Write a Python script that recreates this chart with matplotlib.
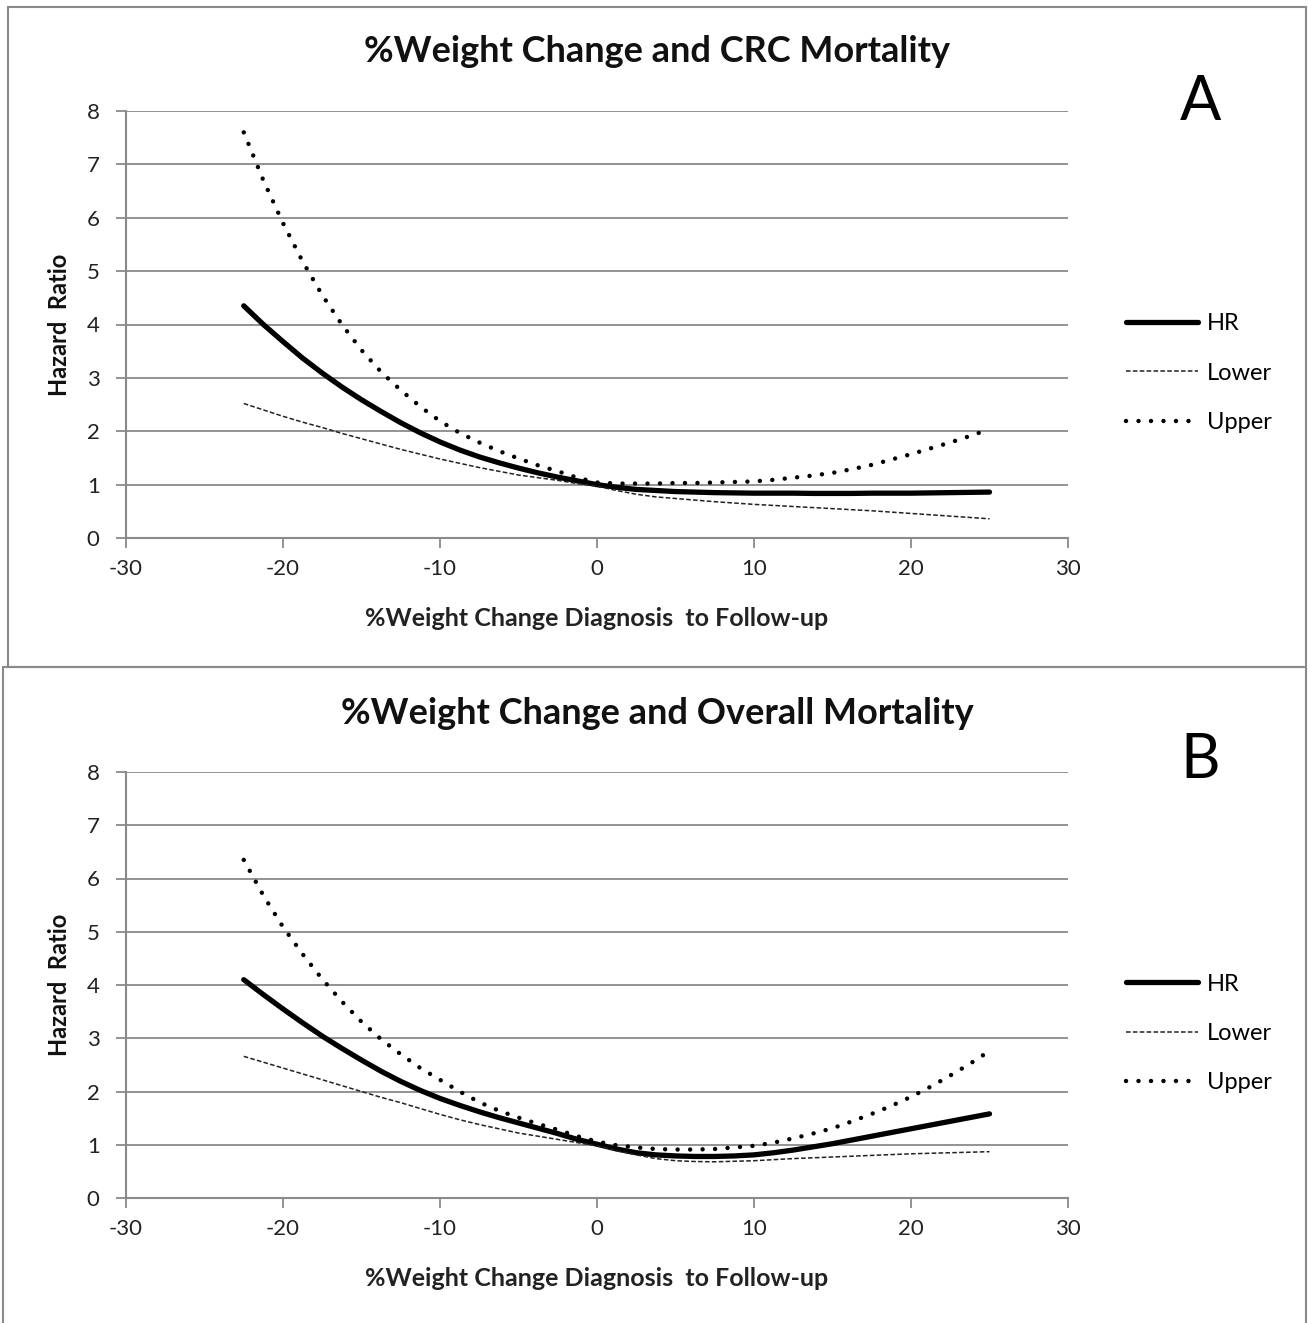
import matplotlib
matplotlib.use("Agg")
import matplotlib.pyplot as plt
from matplotlib.patches import Rectangle

plt.rcParams['font.family'] = ['Lato', 'DejaVu Sans']
plt.rcParams['axes.unicode_minus'] = False

x_vals = [-22.5, -21.25, -20, -18.75, -17.5, -16.25, -15, -13.75, -12.5, -11.25,
          -10, -8.75, -7.5, -6.25, -5, -3.75, -2.5, -1.25, 0, 1.25,
          2.5, 3.75, 5, 6.25, 7.5, 8.75, 10, 11.25, 12.5, 13.75,
          15, 16.25, 17.5, 18.75, 20, 21.25, 22.5, 23.75, 25]

# Panel A: CRC mortality
hr_a = [4.35, 4.00, 3.68, 3.37, 3.09, 2.83, 2.59, 2.37, 2.16, 1.97,
        1.80, 1.65, 1.52, 1.41, 1.31, 1.22, 1.14, 1.07, 1.00, 0.95,
        0.91, 0.89, 0.87, 0.86, 0.85, 0.845, 0.84, 0.84, 0.84, 0.835,
        0.835, 0.835, 0.84, 0.84, 0.84, 0.845, 0.85, 0.855, 0.86]
upper_a = [7.60, 6.70, 5.90, 5.18, 4.55, 4.00, 3.52, 3.11, 2.77, 2.46,
           2.19, 1.97, 1.79, 1.63, 1.49, 1.36, 1.25, 1.13, 1.04, 1.02,
           1.02, 1.02, 1.03, 1.03, 1.04, 1.05, 1.06, 1.09, 1.13, 1.17,
           1.22, 1.29, 1.37, 1.47, 1.57, 1.68, 1.79, 1.91, 2.04]
lower_a = [2.52, 2.40, 2.28, 2.17, 2.07, 1.96, 1.86, 1.76, 1.66, 1.57,
           1.48, 1.40, 1.32, 1.25, 1.18, 1.13, 1.08, 1.02, 0.97, 0.89,
           0.82, 0.77, 0.74, 0.71, 0.68, 0.655, 0.63, 0.61, 0.59, 0.57,
           0.55, 0.53, 0.51, 0.485, 0.46, 0.435, 0.41, 0.385, 0.36]

# Panel B: overall mortality
hr_b = [4.10, 3.82, 3.55, 3.29, 3.04, 2.81, 2.59, 2.38, 2.19, 2.02,
        1.87, 1.74, 1.62, 1.51, 1.41, 1.31, 1.21, 1.10, 1.01, 0.92,
        0.85, 0.81, 0.79, 0.78, 0.78, 0.79, 0.81, 0.85, 0.90, 0.96,
        1.02, 1.09, 1.16, 1.23, 1.30, 1.37, 1.44, 1.51, 1.58]
upper_b = [6.35, 5.68, 5.09, 4.58, 4.11, 3.69, 3.31, 2.98, 2.70, 2.44,
           2.22, 2.00, 1.80, 1.64, 1.51, 1.39, 1.28, 1.16, 1.06, 0.99,
           0.95, 0.92, 0.91, 0.91, 0.92, 0.95, 0.98, 1.04, 1.12, 1.21,
           1.31, 1.44, 1.58, 1.73, 1.90, 2.09, 2.30, 2.52, 2.76]
lower_b = [2.66, 2.55, 2.44, 2.33, 2.22, 2.11, 2.00, 1.89, 1.79, 1.68,
           1.57, 1.47, 1.38, 1.30, 1.22, 1.16, 1.10, 1.04, 0.98, 0.89,
           0.81, 0.74, 0.70, 0.685, 0.68, 0.69, 0.70, 0.72, 0.74, 0.755,
           0.77, 0.785, 0.80, 0.815, 0.83, 0.84, 0.85, 0.86, 0.87]

titles = ["%Weight Change and CRC Mortality", "%Weight Change and Overall Mortality"]
panel_letters = ["A", "B"]
x_ticks = [-30, -20, -10, 0, 10, 20, 30]
y_ticks = [0, 1, 2, 3, 4, 5, 6, 7, 8]
xlabel = "%Weight Change Diagnosis  to Follow-up"
ylabel = "Hazard  Ratio"
series_labels = ["HR", "Lower", "Upper"]

W, H = 1314, 1323
fig = plt.figure(figsize=(W / 100, H / 100), dpi=100)

GRAY = "#8a8a8a"

# panel frames
fig.add_artist(Rectangle((8 / W, 1 - 667 / H), (1306 - 8) / W, (667 - 7) / H,
                         transform=fig.transFigure, fill=False, edgecolor=GRAY, lw=1.5))
fig.add_artist(Rectangle((3 / W, -0.01), (1306 - 3) / W, 1 - 667 / H + 0.01,
                         transform=fig.transFigure, fill=False, edgecolor=GRAY, lw=1.5))

panels = [
    dict(hr=hr_a, lo=lower_a, up=upper_a, top=111, bottom=538, title_y=52, letter_y=102),
    dict(hr=hr_b, lo=lower_b, up=upper_b, top=772, bottom=1198, title_y=714, letter_y=760),
]

for i, p in enumerate(panels):
    left, right = 126, 1068
    ax = fig.add_axes([left / W, 1 - p['bottom'] / H, (right - left) / W, (p['bottom'] - p['top']) / H])
    ax.set_xlim(-30, 30)
    ax.set_ylim(0, 8)
    ax.set_xticks(x_ticks)
    ax.set_yticks(y_ticks)
    ax.yaxis.grid(True, color=GRAY, lw=1.3)
    ax.set_axisbelow(True)
    for s in ['top', 'right']:
        ax.spines[s].set_visible(False)
    for s in ['left', 'bottom']:
        ax.spines[s].set_color(GRAY)
        ax.spines[s].set_linewidth(1.5)
    ax.tick_params(axis='both', colors=GRAY, length=7, width=1.3, labelsize=16,
                   labelcolor='#222222', direction='out')
    ax.tick_params(axis='x', pad=8)
    ax.tick_params(axis='y', pad=12)

    l1, = ax.plot(x_vals, p['hr'], color='black', lw=3.8, solid_capstyle='round',
                  solid_joinstyle='round', label=series_labels[0])
    l2, = ax.plot(x_vals, p['lo'], color='#222222', lw=1.1, linestyle=(0, (3.0, 1.5)),
                  label=series_labels[1])
    l3, = ax.plot(x_vals, p['up'], color='black', lw=3.2, linestyle=(0, (0.01, 2.8)),
                  dash_capstyle='round', label=series_labels[2])

    ax.set_xlabel(xlabel, fontsize=18, fontweight='bold', color='#222222')
    ax.xaxis.set_label_coords(0.5, -0.162)
    ax.set_ylabel(ylabel, fontsize=17, fontweight='bold', color='#111111')
    ax.yaxis.set_label_coords(-0.058, 0.5)

    fig.text(657 / W, 1 - p['title_y'] / H, titles[i], fontsize=26, fontweight='bold',
             ha='center', va='center', color='#111111')
    fig.text(1200 / W, 1 - p['letter_y'] / H, panel_letters[i], fontsize=44,
             ha='center', va='center', color='black')

    mid = (p['bottom'] - p['top']) * (538 - 373) / (538 - 111)
    leg_y = 1 - (p['bottom'] - mid) / H
    ax.legend(handles=[l1, l2, l3], loc='center left',
              bbox_to_anchor=(1126 / W, leg_y), bbox_transform=fig.transFigure,
              frameon=False, fontsize=17, handlelength=3.05, handletextpad=0.38,
              labelspacing=1.2, borderpad=0, borderaxespad=0)

fig.savefig("out.png", dpi=100)
